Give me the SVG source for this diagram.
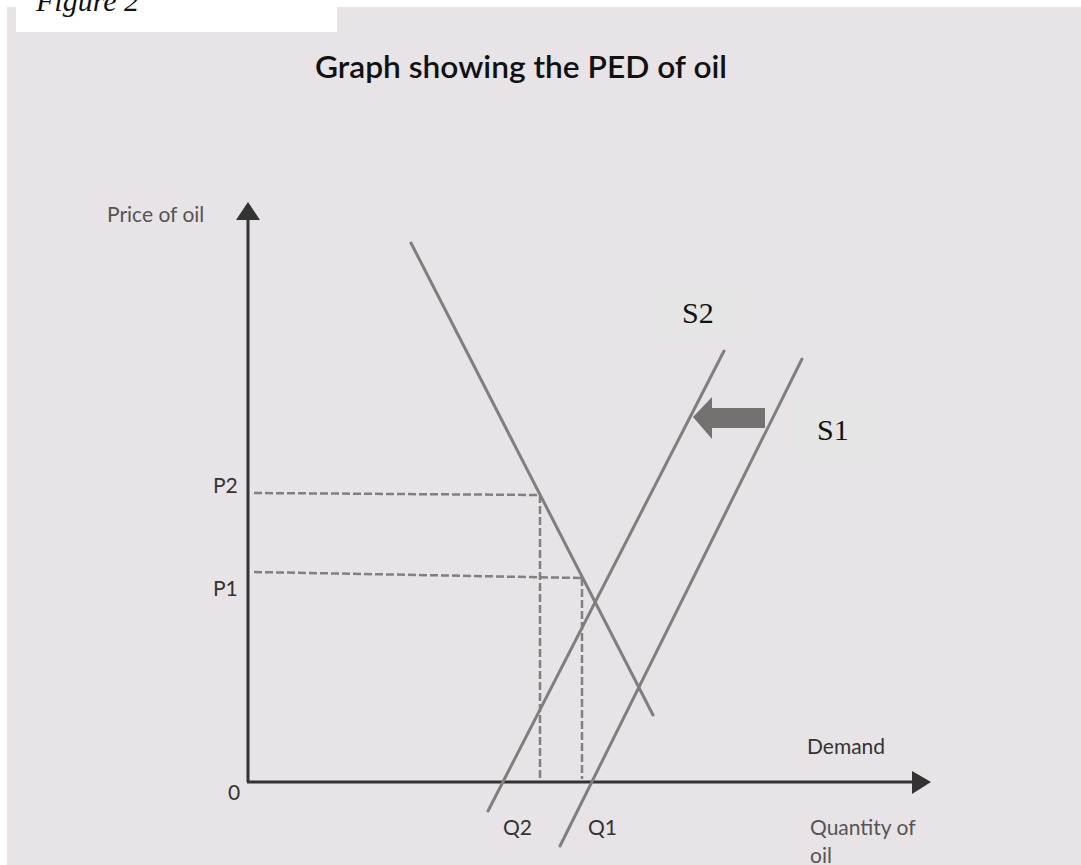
<svg xmlns="http://www.w3.org/2000/svg" width="1081" height="865" viewBox="0 0 1081 865">
<style>
.lbl{font-family:Lato,"Liberation Sans",sans-serif;font-size:21px;fill:#555}
.dk{fill:#333}
.tnr{font-family:"Liberation Serif","Times New Roman",serif;font-size:30px;fill:#111}
.axis{stroke:#333;stroke-width:3;fill:none}
.curve{stroke:#7f7f7f;stroke-width:3;fill:none;stroke-linecap:round}
.dash{stroke:#808080;stroke-width:2.5;fill:none;stroke-dasharray:8 3}
</style>
<rect x="0" y="0" width="1081" height="865" fill="#ffffff"/>
<rect x="7" y="7" width="1074" height="858" fill="#e7e3e6"/>
<g id="figure-label">
<rect x="16" y="0" width="321" height="32" fill="#ffffff"/>
<text x="36" y="11" class="tnr" font-style="italic">Figure 2</text>
</g>
<g id="title">
<text x="315" y="78" font-family="Lato,'Liberation Sans',sans-serif" font-size="30" font-weight="600" fill="#111" textLength="412" lengthAdjust="spacingAndGlyphs">Graph showing the PED of oil</text>
</g>
<g id="axes">
<line class="axis" x1="248" y1="218" x2="248" y2="782"/>
<polygon points="248,202 236,220 260,220" fill="#333"/>
<line class="axis" x1="247" y1="782" x2="914" y2="782"/>
<polygon points="931,782 912,771 912,794" fill="#333"/>
<text x="107" y="222" class="lbl">Price of oil</text>
<text x="213" y="493" class="lbl dk">P2</text>
<text x="213" y="596" class="lbl dk">P1</text>
<text x="228" y="800" class="lbl dk">0</text>
<text x="503" y="835" class="lbl dk">Q2</text>
<text x="588" y="835" class="lbl dk">Q1</text>
<text x="807" y="754" class="lbl dk">Demand</text>
<text x="810" y="835" class="lbl">Quantity of</text>
<text x="810" y="863" class="lbl">oil</text>
</g>
<g id="connectors">
<line class="dash" x1="254" y1="493" x2="540" y2="495"/>
<line class="dash" x1="254" y1="572" x2="582" y2="578"/>
<line class="dash" x1="540" y1="495" x2="540" y2="779"/>
<line class="dash" x1="582" y1="578" x2="582" y2="779"/>
</g>
<g id="demand">
<line class="curve" x1="411" y1="243" x2="653" y2="715"/>
</g>
<g id="s2">
<line class="curve" x1="724" y1="351" x2="488" y2="811"/>
<rect x="658" y="287" width="80" height="54" fill="#e5e5e5"/>
<text x="682" y="323" class="tnr">S2</text>
</g>
<g id="s1">
<line class="curve" x1="802" y1="359" x2="560" y2="846"/>
<rect x="795" y="400" width="85" height="60" fill="#e5e5e5"/>
<text x="817" y="440" class="tnr">S1</text>
</g>
<g id="shift-arrow">
<polygon points="693,417 712,397 712,408 765,408 765,428 712,428 712,439" fill="#767171"/>
</g>
</svg>
